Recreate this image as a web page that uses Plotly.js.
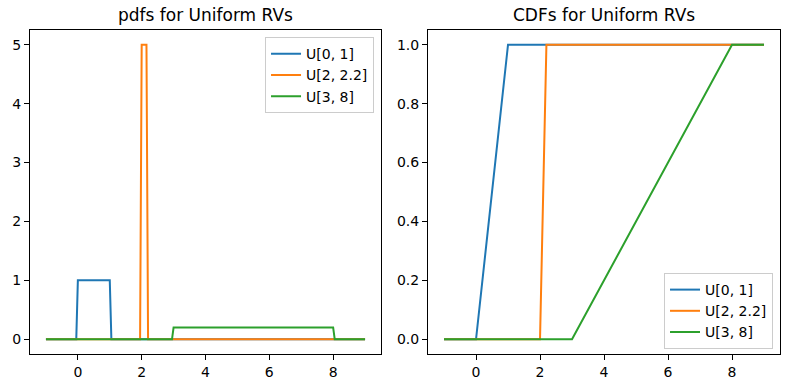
<!DOCTYPE html>
<html>
<head>
<meta charset="utf-8">
<script src="https://cdn.plot.ly/plotly-3.0.1.min.js"></script>
<style>html,body{margin:0;padding:0;background:#fff;}</style>
</head>
<body>
<div id="chart" style="width:789px;height:390px;"></div>
<script>
// Series names
const names = ["U[0, 1]", "U[2, 2.2]", "U[3, 8]"];
const colors = ["#1f77b4", "#ff7f0e", "#2ca02c"];

// PDF vertices
const pdfX0 = [-1, -0.05, 0, 1, 1.05, 9];
const pdfY0 = [0, 0, 1, 1, 0, 0];
const pdfX1 = [-1, 1.95, 2.0, 2.15, 2.2, 9];
const pdfY1 = [0, 0, 5, 5, 0, 0];
const pdfX2 = [-1, 2.95, 3, 8, 8.05, 9];
const pdfY2 = [0, 0, 0.2, 0.2, 0, 0];

// CDF vertices
const cdfX0 = [-1, 0, 1, 9];
const cdfY0 = [0, 0, 1, 1];
const cdfX1 = [-1, 2, 2.2, 9];
const cdfY1 = [0, 0, 1, 1];
const cdfX2 = [-1, 3, 8, 9];
const cdfY2 = [0, 0, 1, 1];

// Tick values
const xTicks = [0, 2, 4, 6, 8];
const pdfYTicks = [0, 1, 2, 3, 4, 5];
const cdfYTicks = [0, 0.2, 0.4, 0.6, 0.8, 1.0];

const pdfXs = [pdfX0, pdfX1, pdfX2], pdfYs = [pdfY0, pdfY1, pdfY2];
const cdfXs = [cdfX0, cdfX1, cdfX2], cdfYs = [cdfY0, cdfY1, cdfY2];

const traces = [];
for (let i = 0; i < 3; i++) {
  traces.push({x: pdfXs[i], y: pdfYs[i], mode: "lines", name: names[i],
    line: {color: colors[i], width: 2}, xaxis: "x", yaxis: "y", legend: "legend"});
}
for (let i = 0; i < 3; i++) {
  traces.push({x: cdfXs[i], y: cdfYs[i], mode: "lines", name: names[i],
    line: {color: colors[i], width: 2}, xaxis: "x2", yaxis: "y2", legend: "legend2"});
}

const font = {family: "DejaVu Sans, sans-serif", size: 14, color: "#000"};
const axisCommon = {
  showline: true, mirror: true, linecolor: "#000", linewidth: 1,
  ticks: "outside", ticklen: 5, tickcolor: "#000", tickwidth: 1,
  showgrid: false, zeroline: false, tickfont: font
};
const legendCommon = {
  bgcolor: "rgba(255,255,255,0.8)", bordercolor: "#cccccc", borderwidth: 1,
  font: font, xref: "paper", yref: "paper", itemwidth: 30
};

const layout = {
  width: 789, height: 390,
  margin: {l: 30, r: 9, t: 30, b: 36},
  paper_bgcolor: "#fff", plot_bgcolor: "#fff",
  font: font,
  xaxis: Object.assign({}, axisCommon, {domain: [0, 0.468], range: [-1.5, 9.5], tickvals: xTicks, anchor: "y"}),
  yaxis: Object.assign({}, axisCommon, {domain: [0, 1], range: [-0.25, 5.25], tickvals: pdfYTicks, anchor: "x"}),
  xaxis2: Object.assign({}, axisCommon, {domain: [0.5307, 1], range: [-1.5, 9.5], tickvals: xTicks, anchor: "y2"}),
  yaxis2: Object.assign({}, axisCommon, {domain: [0, 1], range: [-0.05, 1.05], tickvals: cdfYTicks, tickformat: ".1f", anchor: "x2"}),
  legend: Object.assign({}, legendCommon, {x: 0.4587, y: 0.978, xanchor: "right", yanchor: "top"}),
  legend2: Object.assign({}, legendCommon, {x: 0.9907, y: 0.0154, xanchor: "right", yanchor: "bottom"}),
  showlegend: true,
  annotations: [
    {text: "pdfs for Uniform RVs", xref: "paper", yref: "paper", x: 0.234, y: 1,
     xanchor: "center", yanchor: "bottom", yshift: 3, showarrow: false,
     font: {family: "DejaVu Sans, sans-serif", size: 17, color: "#000"}},
    {text: "CDFs for Uniform RVs", xref: "paper", yref: "paper", x: 0.76535, y: 1,
     xanchor: "center", yanchor: "bottom", yshift: 3, showarrow: false,
     font: {family: "DejaVu Sans, sans-serif", size: 17, color: "#000"}}
  ]
};

Plotly.newPlot("chart", traces, layout, {displayModeBar: false, staticPlot: true});
</script>
</body>
</html>
